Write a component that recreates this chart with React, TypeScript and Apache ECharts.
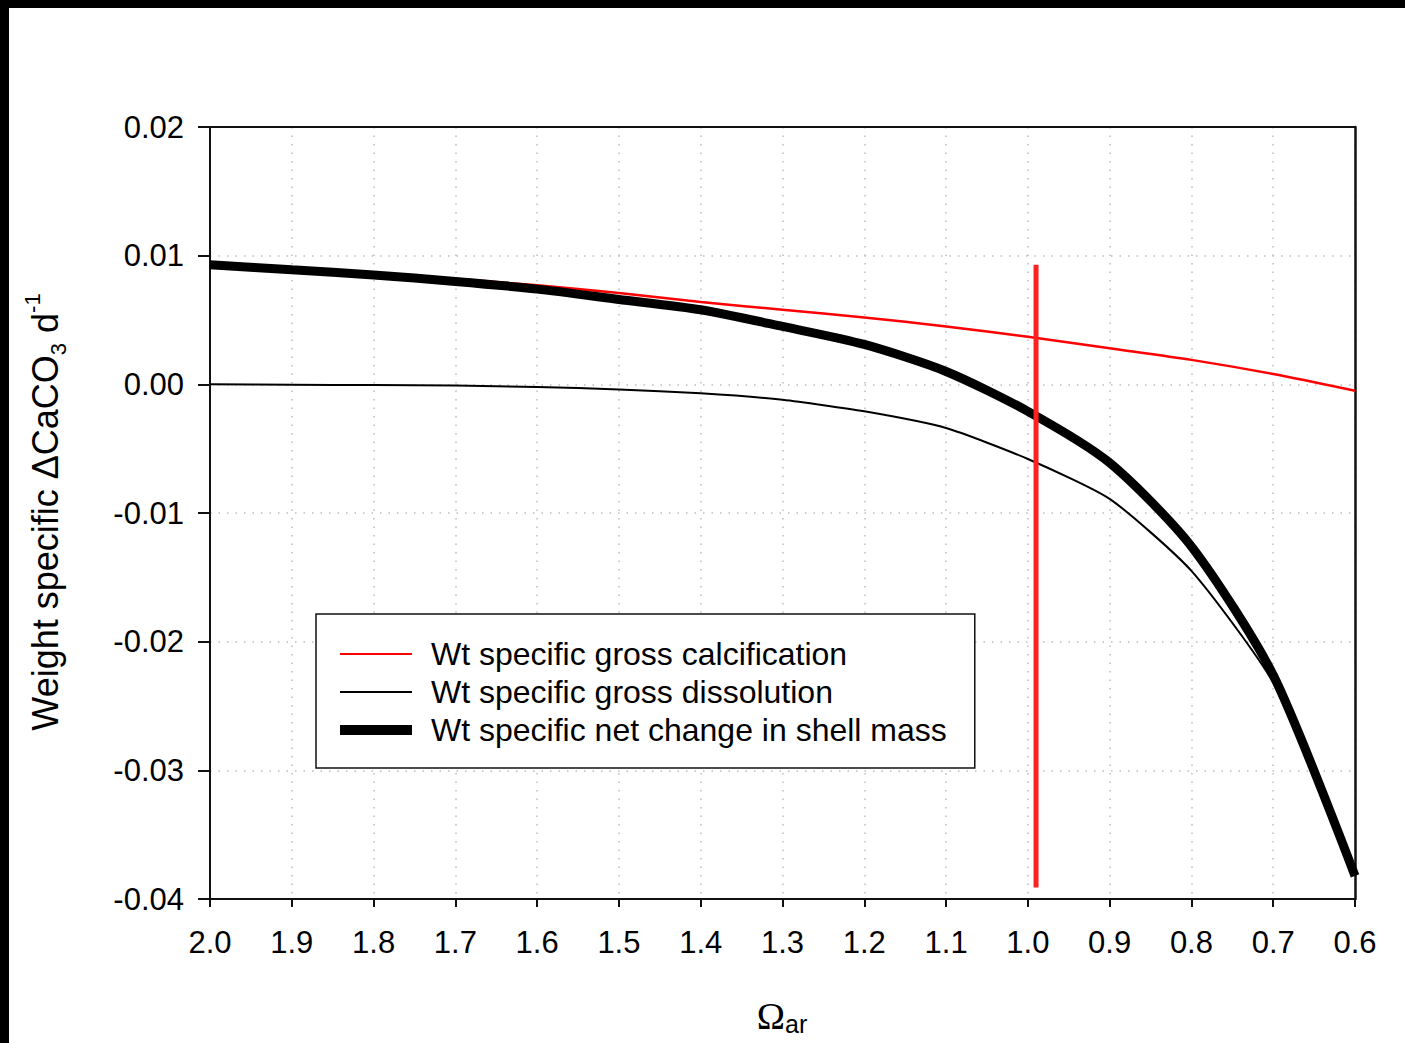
import React, { useEffect, useRef } from "react";
import * as echarts from "echarts";

const omega = [2.0, 1.9, 1.8, 1.7, 1.6, 1.5, 1.4, 1.3, 1.2, 1.1, 1.0, 0.9, 0.8, 0.7, 0.6];
const grossCalc = [0.0094, 0.0090, 0.0086, 0.0082, 0.0077, 0.0071, 0.0064, 0.0058, 0.0052, 0.0045, 0.0037, 0.0028, 0.0019, 0.0008, -0.0005];
const grossDiss = [0.0, -0.00003, -0.00006, -0.0001, -0.0002, -0.0004, -0.0007, -0.0012, -0.0021, -0.0034, -0.0058, -0.0089, -0.0145, -0.0232, -0.0378];
const netChange = [0.0093, 0.0089, 0.0085, 0.0080, 0.0074, 0.0066, 0.0058, 0.0045, 0.0031, 0.0010, -0.0021, -0.0061, -0.0126, -0.0226, -0.0382];
const thresholdX = [0.99, 0.99];
const thresholdY = [0.0093, -0.0391];
const seriesNames = [
  "Wt specific gross calcification",
  "Wt specific gross dissolution",
  "Wt specific net change in shell mass",
];

const FONT = "'Liberation Sans', Arial, Helvetica, sans-serif";
const thinIcon = "path://M0,0H0.01V20H0ZM0,9H72V11H0Z";
const thickIcon = "path://M0,0H0.01V20H0ZM0,5H72V15H0Z";

export default function App() {
  const ref = useRef<HTMLDivElement>(null);
  useEffect(() => {
    if (!ref.current) return;
    const chart = echarts.init(ref.current, null, { renderer: "svg" });
    const pairs = (ys: number[]) => omega.map((x, i) => [x, ys[i]]);
    const split = { show: true, lineStyle: { color: "#bdbdbd", type: [1.5, 7], width: 1.5 } };
    chart.setOption({
      animation: false,
      backgroundColor: "#ffffff",
      textStyle: { fontFamily: FONT, color: "#000" },
      grid: { left: 201, top: 119, right: 50, bottom: 144 },
      xAxis: [
        {
          type: "value",
          inverse: true,
          min: 0.6,
          max: 2.0,
          interval: 0.1,
          axisLine: { show: true, onZero: false, lineStyle: { color: "#111", width: 2 } },
          axisTick: { show: true, inside: false, length: 8, lineStyle: { color: "#111", width: 2 } },
          axisLabel: {
            color: "#000",
            fontSize: 31,
            fontFamily: FONT,
            margin: 28,
            formatter: (v: number) => v.toFixed(1),
          },
          splitLine: split,
        },
        {
          type: "value",
          position: "top",
          inverse: true,
          min: 0.6,
          max: 2.0,
          interval: 0.1,
          axisLine: { show: true, onZero: false, lineStyle: { color: "#111", width: 2 } },
          axisTick: { show: false },
          axisLabel: { show: false },
          splitLine: { show: false },
        },
      ],
      yAxis: [
        {
          type: "value",
          min: -0.04,
          max: 0.02,
          interval: 0.01,
          axisLine: { show: true, onZero: false, lineStyle: { color: "#111", width: 2 } },
          axisTick: { show: true, inside: false, length: 12, lineStyle: { color: "#111", width: 2 } },
          axisLabel: {
            color: "#000",
            fontSize: 31,
            fontFamily: FONT,
            margin: 26,
            formatter: (v: number) => v.toFixed(2),
          },
          splitLine: split,
        },
        {
          type: "value",
          position: "right",
          min: -0.04,
          max: 0.02,
          interval: 0.01,
          axisLine: { show: true, onZero: false, lineStyle: { color: "#111", width: 2.5 } },
          axisTick: { show: false },
          axisLabel: { show: false },
          splitLine: { show: false },
        },
      ],
      legend: {
        data: [
          { name: seriesNames[0], icon: thinIcon },
          { name: seriesNames[1], icon: thinIcon },
          { name: seriesNames[2], icon: thickIcon },
        ],
        orient: "vertical",
        left: 307,
        top: 606,
        padding: [24, 28, 22, 24],
        itemWidth: 72,
        itemHeight: 20,
        itemGap: 6,
        backgroundColor: "#fff",
        borderColor: "#111",
        borderWidth: 1.5,
        borderRadius: 0,
        selectedMode: false,
        itemStyle: { borderWidth: 0 },
        textStyle: {
          fontSize: 32,
          fontFamily: FONT,
          color: "#000",
          lineHeight: 32,
          padding: [0, 0, 0, 14],
        },
      },
      graphic: [
        {
          type: "text",
          x: 36,
          y: 504,
          rotation: Math.PI / 2,
          style: {
            text: "{a|Weight specific ΔCaCO}{sub|3}{a| d}{sup|-1}",
            align: "center",
            verticalAlign: "middle",
            fill: "#000",
            rich: {
              a: { fontSize: 36, fontFamily: FONT, lineHeight: 48, fill: "#000" },
              sub: { fontSize: 22, fontFamily: FONT, verticalAlign: "bottom", lineHeight: 22, fill: "#000" },
              sup: { fontSize: 22, fontFamily: FONT, verticalAlign: "top", lineHeight: 22, fill: "#000" },
            },
          },
        },
        {
          type: "text",
          x: 773,
          y: 1008,
          style: {
            text: "{o|Ω}{sub|ar}",
            align: "center",
            verticalAlign: "middle",
            fill: "#000",
            rich: {
              o: { fontSize: 38, fontFamily: "'Liberation Serif', 'Times New Roman', serif", lineHeight: 40, fill: "#000" },
              sub: { fontSize: 25, fontFamily: FONT, verticalAlign: "bottom", lineHeight: 18, fill: "#000" },
            },
          },
        },
      ],
      series: [
        {
          name: seriesNames[0],
          type: "line",
          data: pairs(grossCalc),
          symbol: "none",
          smooth: 0.25,
          lineStyle: { color: "#ff0000", width: 2.5 },
          itemStyle: { color: "#ff0000" },
          z: 3,
        },
        {
          name: seriesNames[1],
          type: "line",
          data: pairs(grossDiss),
          symbol: "none",
          smooth: 0.2,
          lineStyle: { color: "#000", width: 2 },
          itemStyle: { color: "#000" },
          z: 3,
        },
        {
          name: seriesNames[2],
          type: "line",
          data: pairs(netChange),
          symbol: "none",
          smooth: 0.25,
          lineStyle: { color: "#000", width: 9 },
          itemStyle: { color: "#000" },
          z: 4,
        },
        {
          name: "threshold",
          type: "line",
          data: thresholdX.map((x, i) => [x, thresholdY[i]]),
          symbol: "none",
          lineStyle: { color: "#ff2020", width: 5, cap: "butt" },
          itemStyle: { color: "#ff2020" },
          z: 5,
        },
      ],
    });
    return () => chart.dispose();
  }, []);

  return (
    <div style={{ position: "fixed", left: 0, top: 0, width: 1405, height: 1043, background: "#000", overflow: "hidden" }}>
      <div
        ref={ref}
        style={{ position: "absolute", left: 9, top: 8, width: 1396, height: 1035, background: "#fff" }}
      />
    </div>
  );
}
